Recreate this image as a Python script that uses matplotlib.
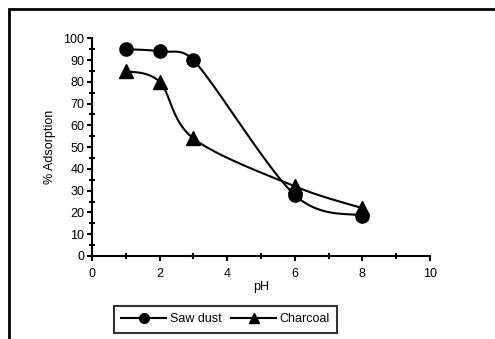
import numpy as np
import matplotlib
matplotlib.use("Agg")
from matplotlib import pyplot as plt
from matplotlib.patches import Rectangle
from matplotlib.lines import Line2D

plt.rcParams['font.family'] = ['Liberation Sans', 'DejaVu Sans']

ph = [1, 2, 3, 6, 8]
saw_dust = [95, 94, 90, 28, 18.5]
charcoal = [85, 80, 54, 32, 22]


def smooth(ax, xs, ys, n=40, cap=0.5):
    # excel-like smoothed line, worked out in screen space:
    # bezier pieces, handles = (next - prev) / 6, capped by segment length
    p = ax.transData.transform(np.column_stack([xs, ys]))
    out = []
    for i in range(len(p) - 1):
        p0 = p[i - 1] if i > 0 else p[i]
        p3 = p[i + 2] if i + 2 < len(p) else p[i + 1]
        seg_len = np.hypot(*(p[i + 1] - p[i]))
        h1 = (p[i + 1] - p0) / 6
        h2 = (p3 - p[i]) / 6
        for h in (h1, h2):
            ln = np.hypot(*h)
            if ln > cap * seg_len:
                h *= cap * seg_len / ln
        c1 = p[i] + h1
        c2 = p[i + 1] - h2
        t = np.linspace(0, 1, n)[:, None]
        seg = ((1 - t) ** 3) * p[i] + 3 * ((1 - t) ** 2) * t * c1 \
            + 3 * (1 - t) * t ** 2 * c2 + t ** 3 * p[i + 1]
        out.append(seg if i == 0 else seg[1:])
    out = ax.transData.inverted().transform(np.vstack(out))
    return out[:, 0], out[:, 1]


fig = plt.figure(figsize=(4.95, 3.39), dpi=100)
ax = fig.add_axes([92 / 495, 83 / 339, 338 / 495, 217.7 / 339])
ax.set_xlim(0, 10)
ax.set_ylim(0, 100)

# outer frame, cut off at right and bottom
fig.patches.append(Rectangle((9 / 495, -0.1), 1.2, 330 / 339 + 0.1,
                             transform=fig.transFigure, fill=False,
                             edgecolor='black', linewidth=2))

sx, sy = smooth(ax, ph, saw_dust)
cx, cy = smooth(ax, ph, charcoal)
ax.plot(sx, sy, color='black', lw=1.5)
ax.plot(cx, cy, color='black', lw=1.5)
ax.plot(ph, saw_dust, 'o', color='black', ms=9.5, clip_on=False)
ax.plot(ph, charcoal, '^', color='black', ms=9.5, clip_on=False)

ax.set_xticks(range(0, 11, 2))
ax.set_xticks(range(1, 10, 2), minor=True)
ax.set_yticks(range(0, 101, 10))
ax.set_yticks(range(5, 100, 10), minor=True)
for s in ['top', 'right']:
    ax.spines[s].set_visible(False)
for s in ['left', 'bottom']:
    ax.spines[s].set_linewidth(1.5)
ax.tick_params(which='major', direction='out', length=3.6, width=1.5,
               labelsize=9, pad=2)
ax.tick_params(axis='x', which='major', pad=5)
ax.tick_params(which='minor', direction='inout', length=4, width=1.5)
ax.set_xlabel('pH', fontsize=9, labelpad=1)
ax.set_ylabel('% Adsorption', fontsize=9, labelpad=5)

handles = [Line2D([], [], color='black', lw=1.5, marker='o', ms=7),
           Line2D([], [], color='black', lw=1.5, marker='^', ms=7)]
leg = fig.legend(handles, ['Saw dust', 'Charcoal'], loc='center',
                 bbox_to_anchor=(225.5 / 495, 1 - 319.5 / 339), ncol=2,
                 fontsize=9, frameon=True, fancybox=False,
                 handlelength=3.6, handletextpad=0.25, columnspacing=0.8,
                 borderpad=0.6, borderaxespad=0)
leg.get_frame().set_edgecolor('black')
leg.get_frame().set_linewidth(1.5)

fig.savefig('out.png', dpi=100)
